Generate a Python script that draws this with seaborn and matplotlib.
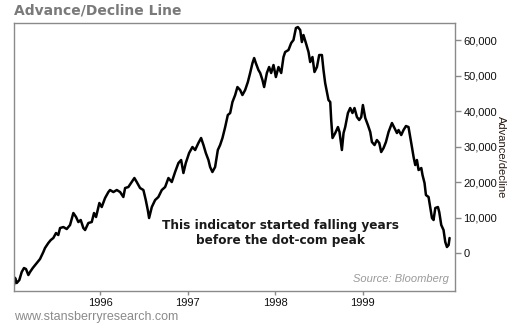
import numpy as np
import pandas as pd
import matplotlib
matplotlib.use("Agg")
import matplotlib.pyplot as plt
import matplotlib.ticker as mticker
import seaborn as sns

# NYSE cumulative advance/decline line, 1995-1999 (decimal years, index level)
t_years = [
    1995.017, 1995.029, 1995.048, 1995.078, 1995.105, 1995.131, 1995.154, 1995.181,
    1995.200, 1995.231, 1995.277, 1995.314, 1995.352, 1995.371, 1995.409, 1995.437,
    1995.466, 1995.497, 1995.523, 1995.543, 1995.581, 1995.619, 1995.657, 1995.695,
    1995.726, 1995.752, 1995.779, 1995.809, 1995.829, 1995.866, 1995.905, 1995.931,
    1995.954, 1995.992, 1996.019, 1996.057, 1996.095,
    1996.114, 1996.152, 1996.191, 1996.229, 1996.266, 1996.286, 1996.323, 1996.362,
    1996.392, 1996.419, 1996.457, 1996.495, 1996.522, 1996.545, 1996.560, 1996.591,
    1996.629, 1996.666, 1996.705, 1996.743, 1996.781, 1996.819, 1996.857, 1996.895,
    1996.926, 1996.952, 1996.979, 1997.017, 1997.055, 1997.086,
    1997.123, 1997.154, 1997.181, 1997.208, 1997.238, 1997.257, 1997.283, 1997.314,
    1997.345, 1997.371, 1997.398, 1997.429, 1997.459, 1997.486, 1997.512, 1997.543,
    1997.569, 1997.600, 1997.626, 1997.657, 1997.688, 1997.714, 1997.741, 1997.760,
    1997.779, 1997.809, 1997.829, 1997.855, 1997.874, 1997.905, 1997.931, 1997.954,
    1997.981, 1998.008, 1998.038, 1998.069, 1998.095, 1998.114,
    1998.152, 1998.183, 1998.209, 1998.237, 1998.259, 1998.286, 1998.305, 1998.323,
    1998.351, 1998.381, 1998.400, 1998.426, 1998.449, 1998.477, 1998.503, 1998.534,
    1998.552, 1998.571, 1998.591, 1998.609, 1998.629, 1998.640, 1998.655, 1998.686,
    1998.717, 1998.735, 1998.762, 1998.781, 1998.800, 1998.831, 1998.857, 1998.883,
    1998.906, 1998.934, 1998.960, 1998.983, 1999.002, 1999.029,
    1999.059, 1999.086, 1999.105, 1999.135, 1999.162, 1999.189, 1999.211, 1999.238,
    1999.265, 1999.295, 1999.334, 1999.363, 1999.391, 1999.409, 1999.440, 1999.466,
    1999.494, 1999.523, 1999.543, 1999.562, 1999.581, 1999.600, 1999.619, 1999.638,
    1999.669, 1999.683, 1999.706, 1999.722, 1999.752, 1999.771, 1999.791, 1999.809,
    1999.829, 1999.859, 1999.874, 1999.897, 1999.923, 1999.943, 1999.962, 1999.981,
    1999.992,
]
ad_line = [
    -9000, -7000, -8450, -7610, -5350, -4230, -4510, -6200,
    -5350, -4230, -2820, -1690, 280, 1410, 2820, 3660,
    4230, 5630, 5070, 7040, 7320, 6760, 7890, 11270,
    10140, 8730, 9300, 7040, 6480, 8450, 8730, 11270,
    10140, 14090, 12960, 15490, 17180,
    17750, 17180, 17750, 17180, 15780, 18310, 18590, 20000,
    21130, 20000, 18310, 17750, 14930, 12110, 9860, 12960,
    14930, 15780, 17750, 18590, 21130, 20000, 22820, 25350,
    26200, 22540, 25350, 28170, 29860, 29020,
    30990, 32400, 30420, 28170, 26200, 24230, 22820, 24230,
    29020, 30420, 32400, 35490, 38870, 39440, 42540, 44510,
    46760, 45920, 44510, 45920, 48170, 50710, 53520, 54930,
    53520, 51550, 50710, 48730, 46760, 50710, 52400, 50710,
    52960, 49580, 52400, 50710, 55210, 56620,
    57190, 59160, 60000, 63380, 63660, 62820, 59440, 61410,
    59160, 56620, 53800, 55210, 50990, 52400, 55780, 55780,
    51550, 47890, 45350, 43100, 42540, 37470, 32400, 33800,
    35490, 34090, 29020, 33800, 35490, 39440, 40850, 39440,
    40850, 38310, 37470, 38310, 41690, 38030,
    36060, 34090, 31270, 30420, 31830, 30990, 28450, 29580,
    31270, 34090, 36620, 35210, 33800, 34650, 33240, 34650,
    35780, 35490, 32680, 29860, 27040, 24790, 26200, 23380,
    23940, 21970, 19720, 16340, 15780, 12960, 9860, 9300,
    12680, 12960, 11550, 7890, 6480, 3100, 1690, 2250,
    4230,
]
year_ticks = [1996, 1997, 1998, 1999]
value_ticks = [0, 10000, 20000, 30000, 40000, 50000, 60000]


def to_date(y):
    return pd.Timestamp("1995-01-01") + pd.to_timedelta((y - 1995.0) * 365.25, unit="D")


df = pd.DataFrame({
    "date": [to_date(y) for y in t_years],
    "value": ad_line,
})

sns.set_style("white")
plt.rcParams["font.family"] = ["Liberation Sans", "DejaVu Sans"]

fig = plt.figure(figsize=(5.1, 3.25), dpi=100)
ax = fig.add_axes([14 / 510, 34 / 325, 441 / 510, 268 / 325])

sns.lineplot(data=df, x="date", y="value", ax=ax, color="black",
             linewidth=1.8, solid_joinstyle="round")

ax.set_xlim(to_date(1995.017), to_date(2000.054))
ax.set_ylim(-10700, 64800)

ax.set_xticks([pd.Timestamp(f"{y}-01-01") for y in year_ticks])
ax.set_xticklabels([str(y) for y in year_ticks])
ax.yaxis.tick_right()
ax.yaxis.set_label_position("right")
ax.set_yticks(value_ticks)
ax.yaxis.set_major_formatter(mticker.FuncFormatter(lambda v, p: f"{int(v):,}"))

for s in ax.spines.values():
    s.set_color("#8a8a8a")
    s.set_linewidth(1.0)
    s.set_visible(True)

ax.tick_params(axis="both", which="major", length=4, width=1, color="#8a8a8a",
               labelsize=8, labelcolor="#111111", pad=2, direction="out")
ax.tick_params(axis="x", bottom=True, length=3, pad=2)
ax.tick_params(axis="y", right=True, left=False)

ax.set_xlabel("")
ax.set_ylabel("Advance/decline", rotation=270, fontsize=8, color="#2a1a12",
              labelpad=3, va="center")

# Headline above the plot area
fig.text(14 / 510, 1 - 10 / 325, "Advance/Decline Line", ha="left", va="center",
         fontsize=10, fontweight="bold", color="#7a7a7a",
         family=["DejaVu Sans"])

# Callout inside the plot
ax.text(0.605, 0.218, "This indicator started falling years\nbefore the dot-com peak",
        transform=ax.transAxes, ha="center", va="center", fontsize=8.7,
        fontweight="bold", color="#1a1a1a", linespacing=1.2,
        family=["DejaVu Sans"])

ax.text(0.985, 0.045, "Source: Bloomberg", transform=ax.transAxes,
        ha="right", va="center", fontsize=8, style="italic", color="#9a9a9a")

fig.text(14 / 510, 1 - 317 / 325, "www.stansberryresearch.com", ha="left",
         va="center", fontsize=9, color="#8a8a8a")

fig.savefig("out.png", dpi=100)
